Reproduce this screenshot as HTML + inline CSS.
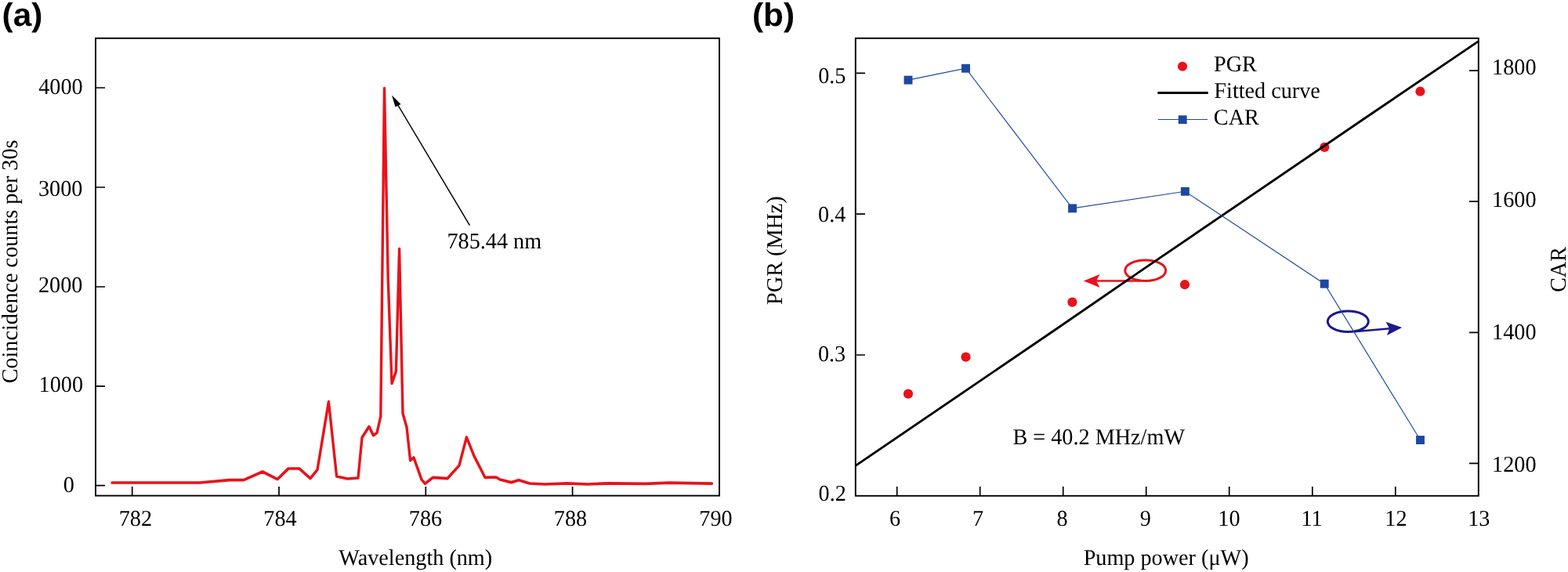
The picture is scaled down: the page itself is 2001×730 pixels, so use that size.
<!DOCTYPE html>
<html lang="en">
<head>
<meta charset="utf-8">
<title>Figure: coincidence spectrum and PGR / CAR versus pump power</title>
<style>
html,body{margin:0;padding:0;background:#fff;}
body{width:2001px;height:730px;overflow:hidden;}
svg{display:block;}
text{font-family:"Liberation Serif",serif;fill:#000;text-rendering:geometricPrecision;}
.pl{font-family:"Liberation Sans",sans-serif;font-weight:bold;}
.ax{stroke:#000;stroke-width:1.9;fill:none;}
.tk{stroke:#000;stroke-width:1.7;fill:none;}
</style>
</head>
<body>
<svg width="2001" height="730" viewBox="0 0 2001 730">
<rect width="2001" height="730" fill="#fff"/>

<g id="panel-a">
<text class="pl" font-size="41.5" transform="translate(2.60 32.79) scale(1.0193 1)">(a)</text>
<rect class="ax" x="122" y="48.8" width="796" height="583.8"/>
<path class="tk" d="M123 112.0H134M123 239H134M123 366H134M123 492.8H134M123 619.6H134"/>
<path class="tk" d="M168.7 632V621M356 632V621M543.3 632V621M730.6 632V621"/>
<text font-size="28.8" transform="translate(49.23 120.43) scale(0.9792 1)">4000</text>
<text font-size="28.8" transform="translate(49.01 249.68) scale(0.9792 1)">3000</text>
<text font-size="28.8" transform="translate(48.98 372.78) scale(0.9792 1)">2000</text>
<text font-size="28.8" transform="translate(49.59 499.53) scale(0.9792 1)">1000</text>
<text font-size="28.8" transform="translate(80.70 627.63) scale(0.9792 1)">0</text>
<text font-size="28.8" transform="translate(151.71 671.33) scale(0.9792 1)">782</text>
<text font-size="28.8" transform="translate(336.29 671.33) scale(0.9792 1)">784</text>
<text font-size="28.8" transform="translate(521.86 671.33) scale(0.9792 1)">786</text>
<text font-size="28.8" transform="translate(706.80 671.33) scale(0.9792 1)">788</text>
<text font-size="28.8" transform="translate(892.35 671.33) scale(0.9792 1)">790</text>
<text font-size="28.8" transform="translate(432.36 721.46) scale(0.9792 1)">Wavelength (nm)</text>
<text font-size="28.8" transform="translate(22.38 489.37) rotate(-90) scale(0.9792 1)">Coincidence counts per 30s</text>
<g transform="scale(0.92 1)"><polyline fill="none" stroke="#e7131b" stroke-width="3.7" stroke-linejoin="round" stroke-linecap="round" points="155.43,616 277.17,616 318.48,612.6 338.04,612.6 364.13,602 384.78,611.6 400.00,598 415.22,598 430.43,610.6 440.22,599.6 455.87,512.6 466.96,608 482.17,611 496.74,610 502.17,558.4 511.96,544.4 517.83,555.6 522.83,552.4 528.04,531.6 533.15,112.5 538.26,355 543.48,489.5 549.35,474 553.91,317.6 558.70,527.6 564.13,545 569.13,587.6 573.91,584 584.78,612 589.57,617.2 600.43,609.4 620.65,610.6 636.96,594 647.17,558 657.61,582 672.83,609.4 688.04,609 693.48,612 709.13,615.6 719.57,612.8 734.78,617.0 755.43,618.0 786.96,616.8 814.67,618.0 844.57,616.8 895.65,617.3 928.26,616.2 956.52,616.6 987.39,617.1"/></g>
<line x1="599.4" y1="287.6" x2="506" y2="131" stroke="#000" stroke-width="1.5"/>
<polygon points="500,121.5 511.5,133 504.5,136.5" fill="#000"/>
<text font-size="28.8" transform="translate(570.52 316.56) scale(0.9792 1)">785.44 nm</text>
</g>
<g id="panel-b">
<text class="pl" font-size="41.5" transform="translate(960.03 32.79) scale(1.0193 1)">(b)</text>
<rect class="ax" x="1091.8" y="48.8" width="795" height="584"/>
<path class="tk" d="M1093 93.4H1104M1093 273.2H1104M1093 453H1104"/>
<path class="tk" d="M1886 90.2H1875M1886 257.2H1875M1886 424.3H1875M1886 591.3H1875"/>
<path class="tk" d="M1144.7 632V621M1250.7 632V621M1356.7 632V621M1462.7 632V621M1568.7 632V621M1674.8 632V621M1780.8 632V621"/>
<text font-size="28.8" transform="translate(1044.22 106.01) scale(0.9792 1)">0.5</text>
<text font-size="28.8" transform="translate(1044.12 283.46) scale(0.9792 1)">0.4</text>
<text font-size="28.8" transform="translate(1043.88 461.16) scale(0.9792 1)">0.3</text>
<text font-size="28.8" transform="translate(1044.59 638.56) scale(0.9792 1)">0.2</text>
<text font-size="28.8" transform="translate(1904.10 95.33) scale(0.9792 1)">1800</text>
<text font-size="28.8" transform="translate(1904.10 264.43) scale(0.9792 1)">1600</text>
<text font-size="28.8" transform="translate(1904.10 433.43) scale(0.9792 1)">1400</text>
<text font-size="28.8" transform="translate(1904.10 602.23) scale(0.9792 1)">1200</text>
<text font-size="28.8" transform="translate(1135.04 671.26) scale(0.9792 1)">6</text>
<text font-size="28.8" transform="translate(1241.11 671.33) scale(0.9792 1)">7</text>
<text font-size="28.8" transform="translate(1348.45 671.33) scale(0.9792 1)">8</text>
<text font-size="28.8" transform="translate(1454.79 671.26) scale(0.9792 1)">9</text>
<text font-size="28.8" transform="translate(1554.35 671.33) scale(0.9792 1)">10</text>
<text font-size="28.8" transform="translate(1660.44 671.40) scale(0.9792 1)">11</text>
<text font-size="28.8" transform="translate(1767.31 671.40) scale(0.9792 1)">12</text>
<text font-size="28.8" transform="translate(1873.24 671.26) scale(0.9792 1)">13</text>
<text font-size="28.8" transform="translate(1382.64 721.24) scale(0.9792 1)">Pump power (μW)</text>
<text font-size="28.8" transform="translate(998.06 388.91) rotate(-90) scale(0.9792 1)">PGR (MHz)</text>
<text font-size="28.8" transform="translate(1998.31 372.99) rotate(-90) scale(0.9792 1)">CAR</text>
<g fill="#e7131b"><circle cx="1159" cy="502.65" r="6.1"/><circle cx="1232.5" cy="455.65" r="6.1"/><circle cx="1368.4" cy="385.6" r="6.1"/><circle cx="1512" cy="363.2" r="6.1"/><circle cx="1690.3" cy="187.9" r="6.1"/><circle cx="1812.4" cy="116.7" r="6.1"/></g>
<ellipse cx="1461.7" cy="345.25" rx="26" ry="13.35" fill="none" stroke="#e7131b" stroke-width="3"/>
<line x1="1455" y1="358.55" x2="1399" y2="358.55" stroke="#e7131b" stroke-width="2.6"/>
<polygon points="1382.8,358.45 1403.6,350 1399,358.5 1403.6,367" fill="#e7131b"/>
<polyline fill="none" stroke="#000" stroke-width="2.85" stroke-linejoin="round" points="1091.8,594.4 1350,418.5 1460,342.9 1750,145.3 1886.8,52.6"/>
<ellipse cx="1720.3" cy="410.2" rx="26" ry="13.3" fill="none" stroke="#1b1a8a" stroke-width="3"/>
<line x1="1728" y1="423.3" x2="1774" y2="419.3" stroke="#1b1a8a" stroke-width="2.6"/>
<polygon points="1789.2,418 1768.6,410.7 1773.2,419.4 1769.9,427.9" fill="#1b1a8a"/>
<polyline fill="none" stroke="#1d48a0" stroke-width="1.15" points="1159.0,102.15 1232.5,87.25 1368.55,265.9 1512.35,244.3 1690.2,362.2 1812.5,561.55"/>
<g fill="#1d48a0"><rect x="1153.55" y="96.70" width="10.9" height="10.9"/><rect x="1227.05" y="81.80" width="10.9" height="10.9"/><rect x="1363.10" y="260.45" width="10.9" height="10.9"/><rect x="1506.90" y="238.85" width="10.9" height="10.9"/><rect x="1684.75" y="356.75" width="10.9" height="10.9"/><rect x="1807.05" y="556.10" width="10.9" height="10.9"/></g>
<circle cx="1509" cy="84.75" r="6.1" fill="#e7131b"/>
<text font-size="28.8" transform="translate(1549.05 91.31) scale(0.9792 1)">PGR</text>
<line x1="1477.3" y1="118.5" x2="1541.7" y2="118.55" stroke="#000" stroke-width="3"/>
<text font-size="28.8" transform="translate(1549.37 124.66) scale(0.9792 1)">Fitted curve</text>
<line x1="1477.8" y1="152.5" x2="1541" y2="152.5" stroke="#1d48a0" stroke-width="1.15"/>
<rect x="1503.8" y="147.3" width="10.8" height="10.8" fill="#1d48a0"/>
<text font-size="28.8" transform="translate(1548.86 158.96) scale(0.9792 1)">CAR</text>
<text font-size="28.8" transform="translate(1292.46 566.51) scale(0.9792 1)">B = 40.2 MHz/mW</text>
</g>
</svg>
</body>
</html>
